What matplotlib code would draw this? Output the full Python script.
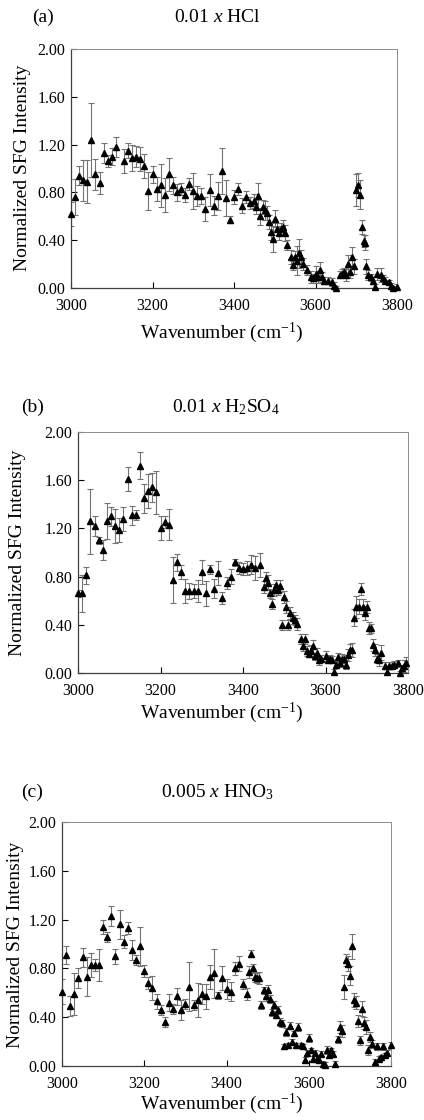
import numpy as np
import matplotlib
matplotlib.use("Agg")
import matplotlib.pyplot as plt

plt.rcParams['font.family'] = ['Liberation Serif', 'DejaVu Serif']
plt.rcParams['mathtext.fontset'] = 'custom'
plt.rcParams['mathtext.rm'] = 'Liberation Serif'
plt.rcParams['mathtext.it'] = 'Liberation Serif:italic'

# ---------- (a) 0.01 x HCl ----------
x_a = [3000, 3010, 3020, 3030, 3040, 3050, 3060, 3070, 3080, 3090, 3100, 3110,
       3130, 3140, 3150, 3160, 3170, 3180, 3190, 3200, 3210, 3220,
       3230, 3240, 3250, 3260, 3270, 3280, 3290, 3300, 3310, 3320,
       3330, 3340, 3350, 3360, 3370, 3380, 3390, 3400, 3410, 3420,
       3430, 3440, 3450,
       3455, 3460, 3465, 3470, 3475, 3480, 3485, 3490, 3495, 3500,
       3505, 3510, 3515, 3520, 3525, 3530,
       3540, 3545, 3550, 3555, 3560, 3565, 3570,
       3580, 3590, 3595, 3600, 3605, 3610, 3615, 3620,
       3630, 3640, 3645, 3650,
       3660, 3665, 3670, 3675, 3680, 3685, 3690, 3695,
       3700, 3705, 3710, 3715, 3720, 3722, 3725, 3730, 3735, 3740, 3745,
       3750, 3760, 3765, 3770, 3780, 3785, 3790, 3800]
y_a = [0.62, 0.76, 0.94, 0.90, 0.89, 1.24, 0.95, 0.88, 1.13, 1.06, 1.10, 1.18,
       1.06, 1.15, 1.09, 1.10, 1.08, 1.02, 0.81, 0.95, 0.83, 0.86,
       0.78, 0.95, 0.86, 0.80, 0.83, 0.78, 0.87, 0.81, 0.77, 0.77,
       0.66, 0.82, 0.69, 0.77, 0.98, 0.75, 0.57, 0.76, 0.83, 0.69,
       0.76, 0.71, 0.73,
       0.68, 0.77, 0.60, 0.68, 0.65, 0.63, 0.55, 0.47, 0.41, 0.58,
       0.49, 0.46, 0.49, 0.51, 0.46, 0.36,
       0.26, 0.19, 0.26, 0.23, 0.29, 0.26, 0.20,
       0.15, 0.09, 0.08, 0.12, 0.09, 0.15, 0.09, 0.06,
       0.06, 0.05, 0.02, 0.00,
       0.11, 0.12, 0.13, 0.11, 0.20, 0.13, 0.26, 0.18,
       0.82, 0.86, 0.78, 0.51, 0.39, 0.38, 0.18, 0.11, 0.09, 0.06, 0.01,
       0.12, 0.11, 0.08, 0.06, 0.05, 0.02, 0.00, 0.01]
err_a = [0.10, 0.15, 0.08, 0.17, 0.18, 0.31, 0.13, 0.09, 0.08, 0.05, 0.07, 0.08,
         0.10, 0.06, 0.11, 0.09, 0.10, 0.10, 0.16, 0.07, 0.10, 0.18,
         0.14, 0.14, 0.07, 0.07, 0.05, 0.06, 0.05, 0.15, 0.08, 0.07,
         0.10, 0.13, 0.08, 0.12, 0.19, 0.15, 0.03, 0.06, 0.05, 0.06,
         0.05, 0.05, 0.06,
         0.06, 0.11, 0.07, 0.06, 0.08, 0.06, 0.06, 0.07, 0.11, 0.07,
         0.05, 0.06, 0.05, 0.06, 0.07, 0.04,
         0.06, 0.04, 0.05, 0.12, 0.12, 0.06, 0.05,
         0.04, 0.05, 0.04, 0.06, 0.05, 0.07, 0.04, 0.03,
         0.03, 0.03, 0.03, 0.02,
         0.03, 0.04, 0.04, 0.05, 0.08, 0.05, 0.08, 0.06,
         0.13, 0.10, 0.12, 0.06, 0.05, 0.06, 0.06, 0.04, 0.03, 0.03, 0.02,
         0.05, 0.06, 0.03, 0.03, 0.02, 0.02, 0.02, 0.02]

# ---------- (b) 0.01 x H2SO4 ----------
x_b = [3000, 3010, 3020, 3030, 3040, 3050, 3060, 3070, 3080, 3090,
       3100, 3110, 3120, 3130, 3140, 3150, 3160, 3170, 3180, 3190,
       3200, 3210, 3220, 3230, 3240, 3250, 3260, 3270, 3280, 3290,
       3300, 3310, 3320, 3330, 3340, 3350, 3360, 3370, 3380, 3390,
       3400, 3410, 3420, 3430, 3440, 3450,
       3455, 3460, 3465, 3470, 3475, 3480, 3485, 3490, 3495, 3500,
       3505, 3510, 3515, 3520, 3525, 3530,
       3540, 3545, 3550, 3555, 3560, 3565, 3570, 3575, 3580, 3585, 3590,
       3600, 3605, 3610, 3615, 3620, 3625, 3630, 3635, 3640, 3645, 3650, 3655, 3660, 3665,
       3670, 3675, 3680, 3685, 3690, 3695, 3700, 3705, 3710, 3715, 3720, 3725, 3730, 3735,
       3745, 3750, 3755, 3760, 3765, 3775, 3780, 3785, 3790, 3795]
y_b = [0.66, 0.66, 0.81, 1.26, 1.22, 1.10, 1.02, 1.26, 1.30, 1.22,
       1.19, 1.28, 1.61, 1.31, 1.31, 1.72, 1.45, 1.51, 1.54, 1.50,
       1.20, 1.25, 1.23, 0.77, 0.92, 0.84, 0.68, 0.68, 0.68, 0.68,
       0.84, 0.66, 0.86, 0.70, 0.83, 0.62, 0.75, 0.80, 0.92, 0.87,
       0.86, 0.87, 0.90, 0.87, 0.90, 0.71,
       0.79, 0.75, 0.66, 0.57, 0.69, 0.73, 0.69, 0.72, 0.40, 0.63,
       0.55, 0.40, 0.50, 0.46, 0.44, 0.41,
       0.28, 0.22, 0.28, 0.18, 0.16, 0.18, 0.22, 0.14, 0.17, 0.11, 0.12,
       0.14, 0.11, 0.12, 0.11, 0.01, 0.07, 0.13, 0.08, 0.12, 0.12, 0.07, 0.15, 0.19, 0.19,
       0.46, 0.55, 0.55, 0.70, 0.55, 0.50, 0.55, 0.37, 0.37, 0.23, 0.19, 0.12, 0.11, 0.17,
       0.06, 0.01, 0.06, 0.06, 0.07, 0.08, 0.00, 0.04, 0.06, 0.08]
err_b = [0.03, 0.15, 0.07, 0.27, 0.08, 0.03, 0.08, 0.15, 0.08, 0.14,
         0.10, 0.10, 0.10, 0.08, 0.04, 0.11, 0.12, 0.14, 0.12, 0.18,
         0.10, 0.05, 0.13, 0.19, 0.07, 0.06, 0.10, 0.07, 0.06, 0.09,
         0.10, 0.10, 0.04, 0.08, 0.10, 0.05, 0.05, 0.06, 0.03, 0.05,
         0.05, 0.06, 0.08, 0.10, 0.10, 0.05,
         0.05, 0.06, 0.04, 0.04, 0.05, 0.04, 0.04, 0.05, 0.04, 0.05,
         0.05, 0.04, 0.05, 0.05, 0.04, 0.05,
         0.04, 0.04, 0.04, 0.04, 0.03, 0.05, 0.05, 0.03, 0.04, 0.04, 0.03,
         0.04, 0.03, 0.03, 0.03, 0.02, 0.03, 0.04, 0.03, 0.04, 0.03, 0.04, 0.05, 0.05, 0.06,
         0.07, 0.09, 0.06, 0.05, 0.06, 0.06, 0.05, 0.05, 0.04, 0.05, 0.05, 0.04, 0.05, 0.06,
         0.03, 0.02, 0.03, 0.03, 0.03, 0.03, 0.02, 0.03, 0.05, 0.05]

# ---------- (c) 0.005 x HNO3 ----------
x_c = [3000, 3010, 3020, 3030, 3040, 3050, 3060, 3070, 3080, 3090,
       3100, 3110, 3120, 3130, 3140, 3150, 3160, 3170, 3180, 3190,
       3200, 3210, 3220, 3230, 3240, 3250, 3260, 3270, 3280, 3290,
       3300, 3310, 3320, 3330, 3340, 3350, 3360, 3370, 3380, 3390,
       3400, 3410, 3420, 3430, 3440, 3450,
       3455, 3460, 3465, 3470, 3475, 3480, 3485, 3490, 3495, 3500,
       3505, 3510, 3515, 3520, 3525, 3530, 3535, 3540, 3545, 3550,
       3555, 3560, 3565, 3570, 3575, 3580, 3585, 3590, 3595, 3600,
       3605, 3610, 3615, 3620, 3625, 3630, 3635, 3640, 3645, 3650,
       3655, 3660, 3665, 3670, 3675, 3680, 3685, 3690, 3695, 3700,
       3705, 3710, 3715, 3720, 3725, 3730, 3735, 3740, 3745, 3750,
       3755, 3760, 3765, 3770, 3775, 3780, 3785, 3790, 3800]
y_c = [0.61, 0.91, 0.49, 0.59, 0.72, 0.89, 0.73, 0.83, 0.83, 0.83,
       1.14, 1.06, 1.23, 0.90, 1.16, 1.02, 1.13, 0.95, 0.87, 0.98,
       0.78, 0.68, 0.64, 0.53, 0.46, 0.36, 0.52, 0.47, 0.57, 0.46,
       0.51, 0.65, 0.50, 0.54, 0.59, 0.57, 0.73, 0.76, 0.58, 0.72,
       0.63, 0.61, 0.80, 0.84, 0.67, 0.59,
       0.77, 0.92, 0.80, 0.73, 0.72, 0.72, 0.50, 0.62, 0.57, 0.62,
       0.55, 0.44, 0.50, 0.42, 0.46, 0.36, 0.35, 0.16, 0.28, 0.17,
       0.33, 0.20, 0.27, 0.17, 0.32, 0.17, 0.16, 0.05, 0.11, 0.23,
       0.13, 0.06, 0.11, 0.06, 0.05, 0.10, 0.02, 0.01, 0.13, 0.09,
       0.13, 0.10, 0.02, 0.22, 0.32, 0.29, 0.65, 0.87, 0.84, 0.74,
       0.98, 0.54, 0.52, 0.37, 0.21, 0.47, 0.35, 0.32, 0.13, 0.24,
       0.18, 0.03, 0.16, 0.06, 0.07, 0.16, 0.09, 0.11, 0.17]
err_c = [0.10, 0.07, 0.08, 0.17, 0.08, 0.08, 0.16, 0.10, 0.05, 0.13,
         0.06, 0.04, 0.08, 0.06, 0.12, 0.05, 0.05, 0.08, 0.04, 0.16,
         0.05, 0.05, 0.10, 0.06, 0.04, 0.04, 0.07, 0.04, 0.07, 0.08,
         0.04, 0.20, 0.04, 0.14, 0.08, 0.10, 0.10, 0.20, 0.03, 0.10,
         0.08, 0.08, 0.05, 0.06, 0.04, 0.05,
         0.05, 0.03, 0.04, 0.04, 0.04, 0.05, 0.03, 0.03, 0.04, 0.04,
         0.03, 0.03, 0.03, 0.03, 0.03, 0.03, 0.03, 0.02, 0.03, 0.02,
         0.03, 0.02, 0.02, 0.02, 0.03, 0.02, 0.02, 0.02, 0.02, 0.03,
         0.02, 0.02, 0.02, 0.02, 0.02, 0.02, 0.02, 0.02, 0.03, 0.02,
         0.02, 0.02, 0.02, 0.03, 0.05, 0.05, 0.10, 0.05, 0.06, 0.08,
         0.10, 0.06, 0.05, 0.05, 0.04, 0.06, 0.05, 0.06, 0.04, 0.04,
         0.03, 0.03, 0.03, 0.02, 0.02, 0.03, 0.02, 0.02, 0.03]

y_ticks = [0.0, 0.4, 0.8, 1.2, 1.6, 2.0]
x_ticks = [3000, 3200, 3400, 3600, 3800]

W, H = 424, 1120
fig = plt.figure(figsize=(W / 100, H / 100), dpi=100)


def px(x, y):
    return x / W, 1 - y / H


def draw_panel(box, x, y, err, tag, title, tag_xy, title_xy, ylab_xy, xlab_xy):
    l, t, r, b = box
    ax = fig.add_axes([l / W, 1 - b / H, (r - l) / W, (b - t) / H])
    ax.errorbar(x, y, yerr=err, fmt='none', ecolor='0.45', elinewidth=0.8,
                capsize=2, capthick=0.8)
    ax.plot(x, y, '^', color='black', markersize=4.7, clip_on=False, zorder=3)
    ax.set_xlim(3000, 3800)
    ax.set_ylim(0, 2.0)
    ax.set_xticks(x_ticks)
    ax.set_yticks(y_ticks)
    ax.set_yticklabels(['%.2f' % v for v in y_ticks])
    ax.tick_params(direction='in', length=4, width=0.8, labelsize=11.5)
    ax.tick_params(axis='x', pad=7)
    ax.tick_params(axis='y', pad=4)
    for s in ['left', 'bottom']:
        ax.spines[s].set_color('0.25')
        ax.spines[s].set_linewidth(0.9)
    for s in ['top', 'right']:
        ax.spines[s].set_color('0.55')
        ax.spines[s].set_linewidth(0.7)
    fig.text(*px(*tag_xy), tag, fontsize=14, ha='left', va='center')
    fig.text(*px(*title_xy), title, fontsize=14, ha='center', va='center')
    fig.text(*px(*ylab_xy), 'Normalized SFG Intensity', fontsize=14,
             rotation=90, ha='center', va='center')
    fig.text(*px(*xlab_xy), 'Wavenumber (cm$^{-1}$)', fontsize=14,
             ha='center', va='center')
    return ax


draw_panel((71, 49, 397, 288), x_a, y_a, err_a, '(a)', '0.01 $\\mathit{x}$ HCl',
           (32, 17), (217, 17), (23, 168), (222, 333))
draw_panel((78, 432, 408, 673), x_b, y_b, err_b, '(b)',
           '0.01 $\\mathit{x}$ H$_2$SO$_4$',
           (21, 407), (226, 407), (18, 553), (222, 713))
draw_panel((62, 822, 391, 1066), x_c, y_c, err_c, '(c)',
           '0.005 $\\mathit{x}$ HNO$_3$',
           (21, 792), (217, 792), (16, 945), (222, 1104))

fig.savefig('out.png', dpi=100)
